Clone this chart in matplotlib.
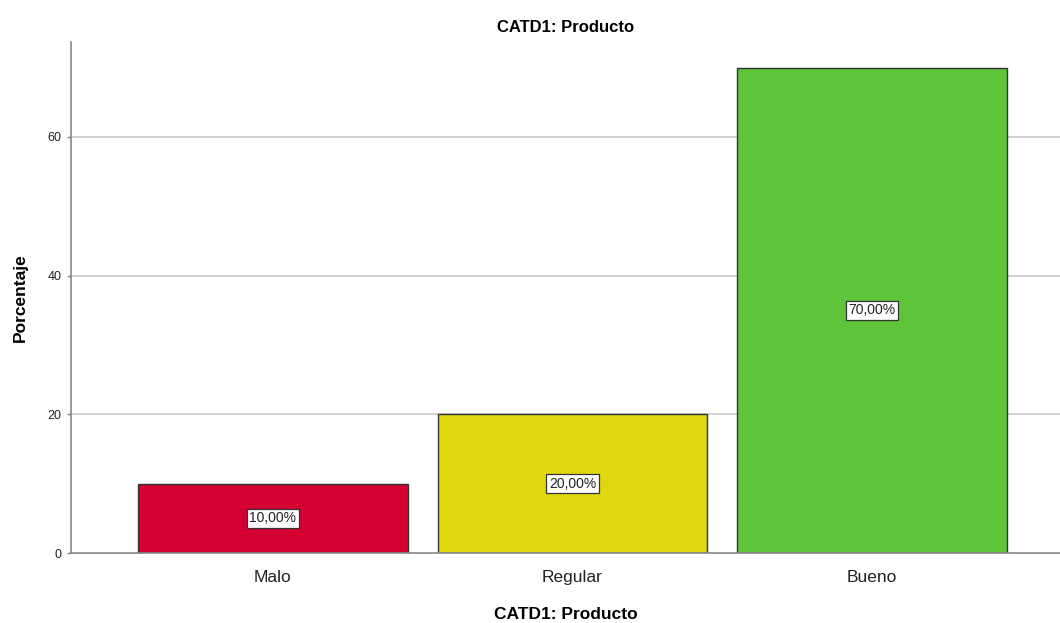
import matplotlib as mpl
import matplotlib.pyplot as plt

mpl.use('Agg')
plt.rcParams['font.family'] = ['Liberation Sans', 'DejaVu Sans']

# Data
categories = ['Malo', 'Regular', 'Bueno']
percentages = [10.0, 20.0, 70.0]
bar_colors = ['#D50032', '#E1D70E', '#5EC43A']
y_ticks = [0, 20, 40, 60]

fig = plt.figure(figsize=(10.6, 6.23), dpi=100)
ax = fig.add_axes([71 / 1060, 70 / 623, 1 - 71 / 1060, 511 / 623])

# Horizontal grid lines behind the bars
for t in y_ticks[1:]:
    ax.axhline(t, color='#C8C8C8', linewidth=1.2, zorder=0)

x = list(range(len(categories)))
ax.bar(x, percentages, width=0.9, color=bar_colors, edgecolor='#333333',
       linewidth=1.0, zorder=2)

# Value labels in boxes at half the bar height
for xi, p in zip(x, percentages):
    ax.text(xi, p / 2, '{0:.2f}%'.format(p).replace('.', ','),
            ha='center', va='center', fontsize=10, color='#222222', zorder=3,
            bbox=dict(boxstyle='square,pad=0.18', facecolor='white',
                      edgecolor='#333333', linewidth=0.9))

ax.set_xlim(-0.673, 2.627)
ax.set_ylim(0, 73.7)
ax.set_xticks(x)
ax.set_xticklabels(categories, fontsize=12.5, color='#222222')
ax.set_yticks(y_ticks)
ax.set_yticklabels([str(t) for t in y_ticks], fontsize=9, color='#222222')
ax.tick_params(axis='x', length=0, pad=12)
ax.tick_params(axis='y', length=3, width=1, color='#888888', pad=4)

for side in ['top', 'right']:
    ax.spines[side].set_visible(False)
for side in ['left', 'bottom']:
    ax.spines[side].set_color('#888888')
    ax.spines[side].set_linewidth(1.2)

ax.set_xlabel('CATD1: Producto', fontsize=12.5, fontweight='bold', labelpad=16)
ax.set_ylabel('Porcentaje', fontsize=12.5, fontweight='bold', labelpad=14)
ax.set_title('CATD1: Producto', fontsize=12, fontweight='bold', pad=7)

fig.savefig('out.png', dpi=100)
